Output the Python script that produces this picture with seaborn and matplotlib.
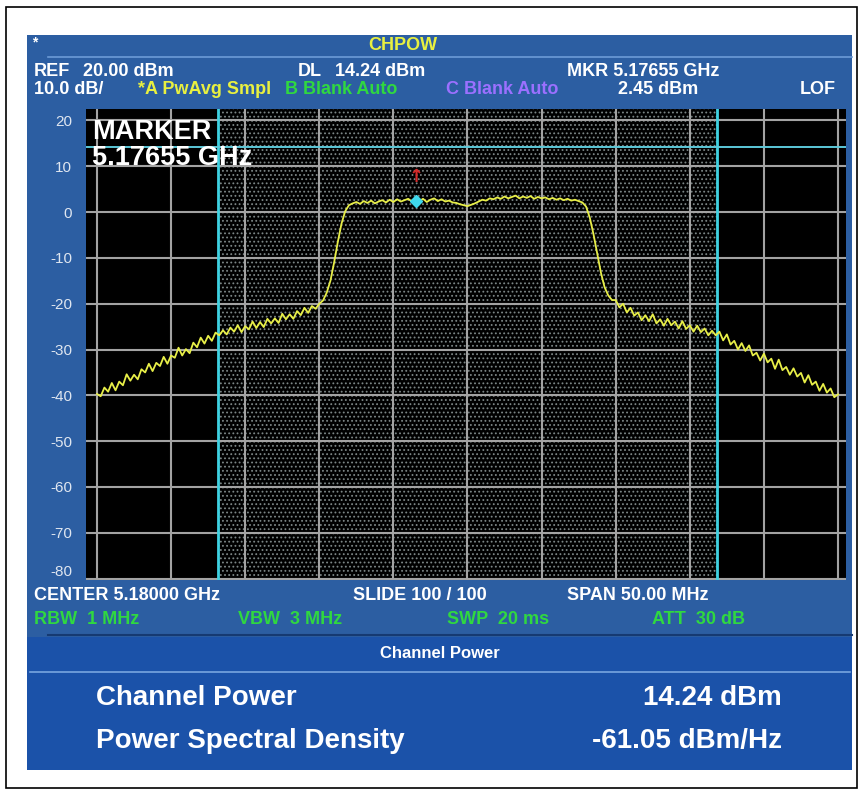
import numpy as np
import matplotlib
matplotlib.use("Agg")
import matplotlib.pyplot as plt
from matplotlib.patches import Rectangle
from matplotlib.lines import Line2D
import seaborn as sns

# analyzer settings
center_ghz = 5.18
span_mhz = 50.0
chan_bw_mhz = 33.7
dl_dbm = 14.24
mkr_ghz = 5.17655
mkr_dbm = 2.45

# trace, 201 sweep points from -25 MHz to +25 MHz around the centre
level_dbm = [
    -39.7, -40.2, -38.3, -39.2, -37.3, -38.9, -37.0, -37.8, -35.4, -36.8,
    -35.5, -36.5, -34.3, -35.0, -33.1, -34.7, -32.9, -33.6, -31.6, -33.1,
    -31.3, -31.8, -29.6, -31.3, -29.9, -30.8, -28.5, -29.5, -27.4, -28.7,
    -27.0, -28.1, -26.3, -26.9, -25.8, -26.7, -25.2, -26.1, -24.7, -26.2,
    -24.9, -25.6, -23.9, -25.3, -24.0, -25.1, -23.3, -24.3, -23.2, -24.2,
    -22.2, -23.4, -22.3, -23.3, -21.6, -22.5, -20.9, -22.0, -20.5, -21.1,
    -20.0, -19.3, -17.6, -15.0, -11.0, -6.5, -2.5, 0.2, 1.5, 1.9,
    2.2, 1.8, 2.4, 2.0, 2.5, 1.9, 2.3, 2.6, 2.1, 2.7,
    2.2, 2.8, 2.3, 2.6, 2.9, 2.3, 2.5, 2.4, 2.9, 2.2,
    2.7, 3.0, 2.4, 2.8, 2.3, 2.5, 2.1, 2.0, 1.7, 1.5,
    1.3, 1.6, 1.9, 2.3, 2.7, 2.5, 3.0, 2.8, 3.2, 2.9,
    3.4, 3.0, 3.3, 3.6, 3.0, 3.4, 3.1, 3.5, 2.9, 3.3,
    3.0, 3.2, 2.8, 3.1, 2.7, 3.0, 2.6, 2.9, 2.5, 2.7,
    2.4, 2.1, 1.2, -1.2, -4.8, -9.0, -13.2, -16.4, -18.2, -19.2,
    -19.2, -20.8, -20.0, -21.9, -20.9, -22.6, -21.9, -23.6, -22.5, -23.8,
    -22.3, -24.3, -23.4, -24.8, -23.3, -24.7, -23.9, -25.4, -23.8, -25.5,
    -24.7, -26.1, -24.8, -26.2, -25.4, -26.9, -25.9, -26.9, -26.1, -28.0,
    -26.7, -28.9, -28.1, -30.0, -28.6, -30.3, -29.1, -31.3, -30.7, -32.4,
    -30.9, -32.8, -32.0, -34.2, -32.2, -34.5, -33.8, -35.5, -34.1, -35.9,
    -35.1, -37.2, -35.6, -37.7, -37.0, -39.0, -37.5, -39.4, -38.5, -40.4,
    -39.8,
]

ytick_vals = [20, 10, 0, -10, -20, -30, -40, -50, -60, -70, -80]

W, H = 861, 793
BLUE = "#2c5ea2"
BLUE_TABLE = "#1b52a9"
FONT = "Liberation Sans"

plt.rcParams["hatch.linewidth"] = 0.8

fig = plt.figure(figsize=(W / 100, H / 100), dpi=100)
fig.patch.set_facecolor("white")


def box(x0, y0, x1, y1, **kw):
    fig.patches.append(Rectangle((x0 / W, 1 - y1 / H), (x1 - x0) / W, (y1 - y0) / H,
                                 transform=fig.transFigure, zorder=-2, **kw))


def hline(x0, x1, y, color, lw=1.2):
    fig.lines.append(Line2D([x0 / W, x1 / W], [1 - y / H, 1 - y / H],
                            transform=fig.transFigure, color=color, lw=lw, zorder=-1))


def label(x, y, s, color="white", size=13, ha="left", weight="bold"):
    fig.text(x / W, 1 - y / H, s, color=color, fontsize=size, fontweight=weight,
             ha=ha, va="center", family=FONT)


# frame and panels
box(6, 7, 857, 788, facecolor="none", edgecolor="black", lw=1.2)
box(27, 35, 852, 637, facecolor=BLUE, edgecolor="none")
box(27, 637, 852, 770, facecolor=BLUE_TABLE, edgecolor="none")
hline(48, 852, 57, "#6c9bd6")
hline(48, 852, 635, "#163a72", lw=1.5)
hline(30, 850, 672, "#78a6e0")

# header
label(32, 42, "*", size=10)
label(403, 46, "CHPOW", color="#e8f040", ha="center")
label(34, 71, "REF")
label(83, 71, "20.00 dBm")
label(298, 71, "DL")
label(335, 71, "14.24 dBm")
label(567, 71, "MKR 5.17655 GHz")
label(34, 90, "10.0 dB/")
label(138, 90, "*A PwAvg Smpl", color="#e8f040")
label(285, 90, "B Blank Auto", color="#30d840")
label(446, 90, "C Blank Auto", color="#9b70ff")
label(618, 90, "2.45 dBm")
label(800, 90, "LOF")

# footer
label(34, 595, "CENTER 5.18000 GHz")
label(353, 595, "SLIDE 100 / 100")
label(567, 595, "SPAN 50.00 MHz")
label(34, 619, "RBW  1 MHz", color="#30d840")
label(238, 619, "VBW  3 MHz", color="#30d840")
label(447, 619, "SWP  20 ms", color="#30d840")
label(652, 619, "ATT  30 dB", color="#30d840")

# channel power table
label(440, 654, "Channel Power", size=12, ha="center")
label(96, 698, "Channel Power", size=20)
label(782, 698, "14.24 dBm", size=20, ha="right")
label(96, 741, "Power Spectral Density", size=20)
label(782, 741, "-61.05 dBm/Hz", size=20, ha="right")

# spectrum screen
px_per_mhz = 741 / span_mhz
ax = fig.add_axes([86 / W, 1 - 580 / H, (846 - 86) / W, (580 - 109) / H])
ax.set_zorder(5)
ax.set_facecolor("black")
for s in ax.spines.values():
    s.set_visible(False)

freq = np.linspace(-span_mhz / 2, span_mhz / 2, len(level_dbm))
ax.axvspan(-chan_bw_mhz / 2, chan_bw_mhz / 2, facecolor="black", edgecolor="#7c8686",
           hatch="....", lw=0, zorder=0.2)

ax.set_xlim(-span_mhz / 2 - 11 / px_per_mhz, span_mhz / 2 + 8 / px_per_mhz)
ax.set_ylim(-80.3, 22.5)
ax.set_xticks(np.arange(-25, 26, 5))
ax.set_yticks(ytick_vals)
ax.set_xticklabels([])
ax.set_yticklabels([str(v) for v in ytick_vals], color="#dfe6f0", fontsize=11, family=FONT)
ax.get_yticklabels()[-1].set_verticalalignment("bottom")
ax.tick_params(length=0, pad=10)
ax.set_axisbelow(True)
ax.grid(True, color="#a3a3a3", lw=1.5)

sns.lineplot(x=freq, y=level_dbm, ax=ax, color="#e8ef48", lw=1.3, estimator=None, zorder=3)

for edge in (-chan_bw_mhz / 2, chan_bw_mhz / 2):
    ax.axvline(edge, color="#3ed2e2", lw=2, zorder=2.5)
ax.axhline(dl_dbm, color="#5cc8d8", lw=1.4, zorder=2.5)

mkr_mhz = (mkr_ghz - center_ghz) * 1000
ax.plot([mkr_mhz], [mkr_dbm], marker="D", ms=6.5, color="#3fd8ec", zorder=4)
ax.text(mkr_mhz, 7.6, "\u2191", color="#d42a2a", fontsize=13, fontweight="bold",
        ha="center", va="center", family="DejaVu Sans", zorder=4)

ax.text(0.008, 0.924, "MARKER\n5.17655 GHz", transform=ax.transAxes, color="white",
        fontsize=19.5, fontweight="bold", family=FONT, ha="left", va="center",
        linespacing=1.0, zorder=5)

fig.savefig("out.png", dpi=100, facecolor="white")
